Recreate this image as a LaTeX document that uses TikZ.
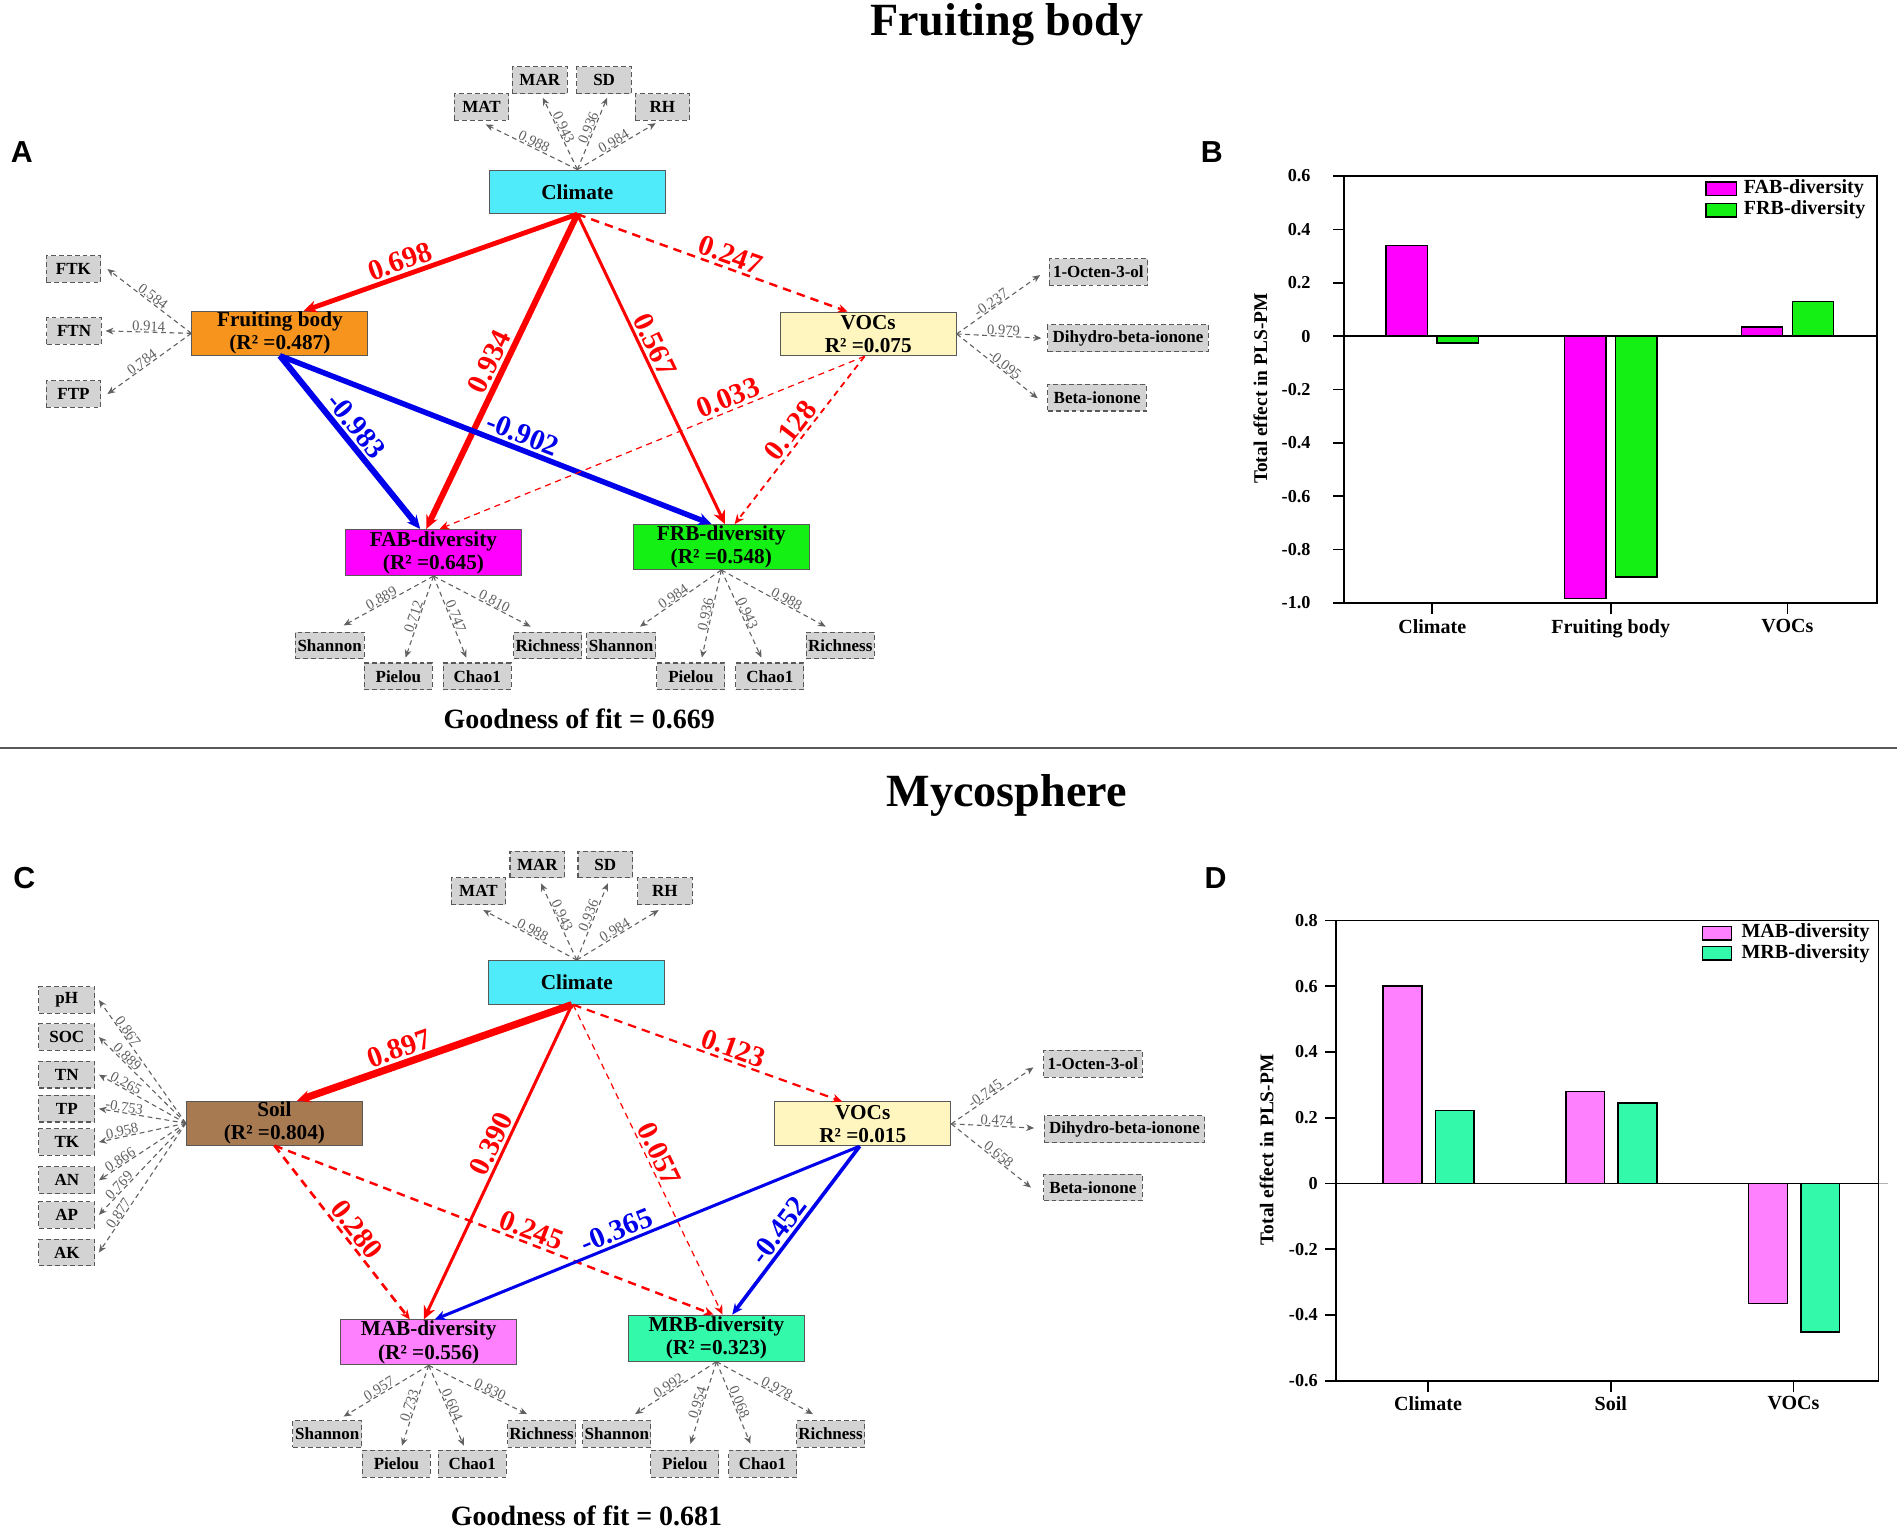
\documentclass[tikz,border=0pt]{standalone}
\usepackage{fontspec}
\setmainfont{Liberation Serif}
\newfontfamily\panelfont{Liberation Sans}
\usetikzlibrary{arrows.meta,calc}
\definecolor{climc}{RGB}{80,235,250}
\definecolor{fbc}{RGB}{247,148,30}
\definecolor{vocc}{RGB}{255,245,190}
\definecolor{fabc}{RGB}{255,0,255}
\definecolor{frbc}{RGB}{20,240,20}
\definecolor{soilc}{RGB}{168,122,82}
\definecolor{mabc}{RGB}{255,128,255}
\definecolor{mrbc}{RGB}{50,250,170}
\definecolor{boxgray}{RGB}{211,211,211}
\definecolor{pred}{RGB}{255,0,0}
\definecolor{pblue}{RGB}{0,0,235}
\begin{document}
\begin{tikzpicture}[x=1pt,y=-1pt,
  latent/.style={draw=black!65, line width=0.8pt, minimum width=145pt, minimum height=36pt, inner sep=0pt, align=center, font=\fontsize{17.5}{19}\selectfont\bfseries},
  mvar/.style={draw=black!65, fill=boxgray, line width=0.9pt, dash pattern=on 4pt off 2.5pt, minimum width=45pt, minimum height=22pt, inner xsep=1.5pt, inner ysep=0pt, font=\fontsize{14}{14}\selectfont\bfseries},
  ind/.style={draw=black!62, line width=0.9pt, dash pattern=on 4pt off 3pt, -{Stealth[length=6.5pt,width=5.5pt]}},
  ll/.style={font=\fontsize{12}{12}\selectfont, text=black!62, sloped, above, inner sep=0.3pt},
  pl/.style={font=\fontsize{24}{24}\selectfont\bfseries, sloped, above, inner sep=2pt},
  sred/.style={draw=pred, -{Stealth[length=11pt,width=10pt]}},
  sblue/.style={draw=pblue, -{Stealth[length=11pt,width=10pt]}},
  tred/.style={draw=pred, -{Stealth[length=8pt,width=7pt]}},
  tblue/.style={draw=pblue, -{Stealth[length=9pt,width=8pt]}},
  dsh/.style={dash pattern=on 7pt off 5pt},
  dshthin/.style={dash pattern=on 5pt off 4pt},
  panel/.style={font=\panelfont\fontsize{25}{25}\selectfont\bfseries},
  ttl/.style={font=\fontsize{38}{38}\selectfont\bfseries},
  gof/.style={font=\fontsize{23}{23}\selectfont\bfseries},
  tick/.style={font=\fontsize{15}{15}\selectfont\bfseries},
  cat/.style={font=\fontsize{16.5}{17}\selectfont\bfseries},
  axlab/.style={font=\fontsize{16}{16}\selectfont\bfseries, rotate=90},
  bar/.style={draw=black, line width=1.3pt}
]
\useasboundingbox (0,0) rectangle (1568,1259);
\fill[white] (0,0) rectangle (1568,1259);

% ---------------- titles, separator, panel letters
\node[ttl] (t1) at (829,20) {Fruiting body};
\node[ttl] (t2) at (829,655) {Mycosphere};
\draw[line width=1.5pt, black!65] (0,616) -- (1562,616);
\node[panel] (pA) at (18,125) {A};
\node[panel] (pB) at (998,125) {B};
\node[panel] (pC) at (20,723) {C};
\node[panel] (pD) at (1001,723) {D};

% ================= PANEL A =================
\node[mvar] (matA) at (396.5,88) {MAT};
\node[mvar] (marA) at (444.5,66) {MAR};
\node[mvar] (sdA) at (497.5,66) {SD};
\node[mvar] (rhA) at (545.5,88) {RH};
\node[latent, fill=climc] (climA) at (475.5,158) {Climate};
\node[latent, fill=fbc] (fbA) at (230.5,274.5) {Fruiting body\\(R² =0.487)};
\node[mvar] (ftk) at (60.5,221.5) {FTK};
\node[mvar] (ftn) at (61,272.5) {FTN};
\node[mvar] (ftp) at (60.5,324.5) {FTP};
\node[latent, fill=vocc] (vocA) at (715,275) {VOCs\\R² =0.075};
\node[mvar, minimum width=81pt] (octA) at (904.5,224) {1-Octen-3-ol};
\node[mvar, minimum width=132pt] (dihA) at (929,278.5) {Dihydro-beta-ionone};
\node[mvar, minimum width=81pt] (betA) at (903.5,327.5) {Beta-ionone};
\node[latent, fill=fabc, minimum height=38pt] (fabA) at (357,455) {FAB-diversity\\(R² =0.645)};
\node[latent, fill=frbc, minimum height=37pt] (frbA) at (594,450.5) {FRB-diversity\\(R² =0.548)};
\node[mvar, minimum width=57pt] (shA) at (271.5,531.5) {Shannon};
\node[mvar, minimum width=56pt] (piA) at (328,557) {Pielou};
\node[mvar, minimum width=56pt] (chA) at (393,557) {Chao1};
\node[mvar, minimum width=56pt] (riA) at (451,531.5) {Richness};
\node[mvar, minimum width=57pt] (shB) at (511.5,531.5) {Shannon};
\node[mvar, minimum width=56pt] (piB) at (569,557) {Pielou};
\node[mvar, minimum width=56pt] (chB) at (634,557) {Chao1};
\node[mvar, minimum width=56pt] (riB) at (692,531.5) {Richness};
\node[gof] (gofA) at (477,592) {Goodness of fit = 0.669};

% indicator arrows A
\draw[ind] (climA.north) -- node[ll,pos=.5]{0.988} ($(matA.south)+(3.5,3)$);
\draw[ind] (climA.north) -- node[ll,pos=.55]{0.943} ($(marA.south)+(2.5,3)$);
\draw[ind] (climA.north) -- node[ll,pos=.55]{0.936} ($(sdA.south)+(2.5,3)$);
\draw[ind] (climA.north) -- node[ll,pos=.5]{0.984} ($(rhA.south)+(-5.5,2)$);
\draw[ind] (fbA.west) -- node[ll,pos=.5]{0.584} ($(ftk.east)+(5,0)$);
\draw[ind] (fbA.west) -- node[ll,pos=.5]{0.914} ($(ftn.east)+(3,0)$);
\draw[ind] (fbA.west) -- node[ll,pos=.55]{0.784} ($(ftp.east)+(5,0)$);
\draw[ind] (vocA.east) -- node[ll,pos=.45]{-0.237} ($(octA.west)+(-7,2.5)$);
\draw[ind] (vocA.east) -- node[ll,pos=.55]{0.979} ($(dihA.west)+(-5,0)$);
\draw[ind] (vocA.east) -- node[ll,pos=.55]{-0.095} ($(betA.west)+(-8,0.5)$);
\draw[ind] (fabA.south) -- node[ll,pos=.55]{0.889} ($(shA.north)+(11.5,-5)$);
\draw[ind] (fabA.south) -- node[ll,pos=.52]{0.712} ($(piA.north)+(6,-4)$);
\draw[ind] (fabA.south) -- node[ll,pos=.52]{0.747} ($(chA.north)+(-9,-4)$);
\draw[ind] (fabA.south) -- node[ll,pos=.6]{0.810} ($(riA.north)+(-14,-4)$);
\draw[ind] (frbA.south) -- node[ll,pos=.55]{0.984} ($(shB.north)+(15.5,-4)$);
\draw[ind] (frbA.south) -- node[ll,pos=.52]{0.936} ($(piB.north)+(9,-4)$);
\draw[ind] (frbA.south) -- node[ll,pos=.52]{0.943} ($(chB.north)+(-7,-4)$);
\draw[ind] (frbA.south) -- node[ll,pos=.6]{0.988} ($(riB.north)+(-12,-4)$);

% structural paths A
\draw[sred, line width=4pt] (climA.south) -- node[pl,text=pred,pos=.63]{0.698} ($(fbA.north)+(19.5,0)$);
\draw[sred, line width=5pt] (climA.south) -- node[pl,text=pred,pos=.49]{0.934} ($(fabA.north)+(-6,0)$);
\draw[sred, line width=2.5pt] (climA.south) -- node[pl,text=pred,pos=.44]{0.567} ($(frbA.north)+(3,0)$);
\draw[tred, line width=2pt, dsh] (climA.south) -- node[pl,text=pred,pos=.55]{0.247} ($(vocA.north)+(-17,0)$);
\draw[sblue, line width=5pt] (fbA.south) -- node[pl,text=pblue,pos=.46]{-0.983} ($(fabA.north)+(-11,0)$);
\draw[sblue, line width=4.5pt] (fbA.south) -- node[pl,text=pblue,pos=.55]{-0.902} ($(frbA.north)+(-8,0)$);
\draw[tred, line width=1pt, dshthin] ($(vocA.south)+(-3,0)$) -- node[pl,text=pred,pos=.31]{0.033} ($(fabA.north)+(5,0)$);
\draw[tred, line width=1.5pt, dshthin] ($(vocA.south)+(-3,0)$) -- node[pl,text=pred,pos=.49]{0.128} ($(frbA.north)+(11,0)$);

% ================= PANEL B =================
\begin{scope}[shift={(1107,276.8)}, y=219.7pt]
  \foreach \x/\v in {72.5/0.34, 219.5/-0.983, 365/0.035}
    \draw[bar, fill=fabc] (\x-38,0) rectangle (\x-4,\v);
  \foreach \x/\v in {72.5/-0.025, 219.5/-0.902, 365/0.13}
    \draw[bar, fill=frbc] (\x+4,0) rectangle (\x+38,\v);
  \draw[line width=1.5pt] (0,-1) rectangle (439,0.6);
  \draw[line width=1.5pt] (0,0) -- (439,0);
  \foreach \v/\lab in {0.6/0.6, 0.4/0.4, 0.2/0.2, 0/0, -0.2/-0.2, -0.4/-0.4, -0.6/-0.6, -0.8/-0.8, -1/-1.0}
    \draw[line width=1.5pt] (0,\v) -- ++(-9pt,0pt) node[tick, anchor=east, inner sep=0pt, xshift=-18pt] {\lab};
  \foreach \x/\lab in {72.5/Climate, 219.5/Fruiting body, 365/VOCs}
    \draw[line width=1.5pt] (\x,-1) -- ++(0pt,-9pt) node[cat, anchor=north, inner sep=0pt, yshift=-4pt] {\lab};
\end{scope}
\node[axlab] (ylB) at (1038,320) {Total effect in PLS-PM};
\draw[line width=1.3pt, fill=fabc] (1405,150) rectangle (1430,161);
\draw[line width=1.3pt, fill=frbc] (1405,167.5) rectangle (1430,178.5);
\node[cat, anchor=west, inner sep=0pt] (legB1) at (1436,155.5) {FAB-diversity};
\node[cat, anchor=west, inner sep=0pt] (legB2) at (1436,173) {FRB-diversity};

% ================= PANEL C =================
\node[mvar] (matC) at (394,734) {MAT};
\node[mvar] (marC) at (442.5,712) {MAR};
\node[mvar] (sdC) at (498.5,712) {SD};
\node[mvar] (rhC) at (547.5,734) {RH};
\node[latent, fill=climc] (climC) at (475,809) {Climate};
\node[latent, fill=soilc] (soil) at (226,925) {Soil\\(R² =0.804)};
\node[mvar, minimum width=46pt] (ph) at (55,823.5) {pH};
\node[mvar, minimum width=46pt] (soc) at (55,854) {SOC};
\node[mvar, minimum width=46pt] (tn) at (55,885) {TN};
\node[mvar, minimum width=46pt] (tp) at (55,913) {TP};
\node[mvar, minimum width=46pt] (tk) at (55,940.5) {TK};
\node[mvar, minimum width=46pt] (an) at (55,972) {AN};
\node[mvar, minimum width=46pt] (ap) at (55,1000.5) {AP};
\node[mvar, minimum width=46pt] (ak) at (55,1031.5) {AK};
\node[latent, fill=vocc] (vocC) at (710.5,925.5) {VOCs\\R² =0.015};
\node[mvar, minimum width=81pt] (octC) at (900,876) {1-Octen-3-ol};
\node[mvar, minimum width=132pt] (dihC) at (926,930) {Dihydro-beta-ionone};
\node[mvar, minimum width=81pt] (betC) at (900,978) {Beta-ionone};
\node[latent, fill=mabc, minimum height=37pt] (mab) at (353,1105.5) {MAB-diversity\\(R² =0.556)};
\node[latent, fill=mrbc, minimum height=38pt] (mrb) at (590,1102) {MRB-diversity\\(R² =0.323)};
\node[mvar, minimum width=57pt] (shC) at (269.5,1181) {Shannon};
\node[mvar, minimum width=56pt] (piC) at (326.5,1205.5) {Pielou};
\node[mvar, minimum width=56pt] (chC) at (389,1205.5) {Chao1};
\node[mvar, minimum width=56pt] (riC) at (446,1181) {Richness};
\node[mvar, minimum width=56pt] (shD) at (508,1181) {Shannon};
\node[mvar, minimum width=56pt] (piD) at (564,1205.5) {Pielou};
\node[mvar, minimum width=56pt] (chD) at (628,1205.5) {Chao1};
\node[mvar, minimum width=56pt] (riD) at (684,1181) {Richness};
\node[gof] (gofC) at (483,1248) {Goodness of fit = 0.681};

% indicator arrows C
\draw[ind] (climC.north) -- node[ll,pos=.5]{0.988} ($(matC.south)+(4,4)$);
\draw[ind] (climC.north) -- node[ll,pos=.55]{0.943} ($(marC.south)+(3,4)$);
\draw[ind] (climC.north) -- node[ll,pos=.55]{0.936} ($(sdC.south)+(2,4)$);
\draw[ind] (climC.north) -- node[ll,pos=.5]{0.984} ($(rhC.south)+(-5,4)$);
\foreach \n/\l in {ph/0.867, soc/0.889, tn/0.265, tp/-0.753, tk/0.958, an/0.866, ap/0.769, ak/0.877}
  \draw[ind] (soil.west) -- node[ll,pos=.72]{\l} ($(\n.east)+(3,0)$);
\draw[ind] (vocC.east) -- node[ll,pos=.45]{-0.745} ($(octC.west)+(-8,3)$);
\draw[ind] (vocC.east) -- node[ll,pos=.55]{0.474} ($(dihC.west)+(-8,-1)$);
\draw[ind] (vocC.east) -- node[ll,pos=.55]{0.658} ($(betC.west)+(-10,0)$);
\draw[ind] (mab.south) -- node[ll,pos=.55]{0.957} ($(shC.north)+(13.5,-3)$);
\draw[ind] (mab.south) -- node[ll,pos=.52]{0.733} ($(piC.north)+(4.5,-3.5)$);
\draw[ind] (mab.south) -- node[ll,pos=.52]{0.604} ($(chC.north)+(-7,-3.5)$);
\draw[ind] (mab.south) -- node[ll,pos=.6]{0.830} ($(riC.north)+(-12,-5)$);
\draw[ind] (mrb.south) -- node[ll,pos=.55]{0.992} ($(shD.north)+(15,-5)$);
\draw[ind] (mrb.south) -- node[ll,pos=.52]{0.954} ($(piD.north)+(4.6,-5)$);
\draw[ind] (mrb.south) -- node[ll,pos=.52]{0.068} ($(chD.north)+(-10,-5)$);
\draw[ind] (mrb.south) -- node[ll,pos=.6]{0.978} ($(riD.north)+(-14.5,-5)$);

% structural paths C
\draw[sred, line width=6pt] ($(climC.south)+(-4,0)$) -- node[pl,text=pred,pos=.61]{0.897} ($(soil.north)+(18.5,0)$);
\draw[sred, line width=2.5pt] ($(climC.south)+(-4,0)$) -- node[pl,text=pred,pos=.46]{0.390} ($(mab.north)+(-4,0)$);
\draw[tred, line width=1pt, dshthin] ($(climC.south)+(-3,0)$) -- node[pl,text=pred,pos=.5]{0.057} ($(mrb.north)+(5,0)$);
\draw[tred, line width=1.8pt, dsh] ($(climC.south)+(-3,0)$) -- node[pl,text=pred,pos=.58]{0.123} ($(vocC.north)+(-17,0)$);
\draw[tred, line width=2.2pt, dsh] (soil.south) -- node[pl,text=pred,pos=.53]{0.280} ($(mab.north)+(-15.5,0)$);
\draw[tred, line width=2pt, dsh] (soil.south) -- node[pl,text=pred,pos=.575]{0.245} ($(mrb.north)+(-2.5,0)$);
\draw[tblue, line width=2.5pt] ($(vocC.south)+(-2.5,0)$) -- node[pl,text=pblue,pos=.56]{-0.365} ($(mab.north)+(5,0)$);
\draw[tblue, line width=3pt] ($(vocC.south)+(-2.5,0)$) -- node[pl,text=pblue,pos=.55]{-0.452} ($(mrb.north)+(13,0)$);

% ================= PANEL D =================
\begin{scope}[shift={(1100,974.6)}, y=270.7pt]
  \foreach \x/\v in {76/0.60, 226.5/0.28, 377/-0.365}
    \draw[bar, fill=mabc] (\x-37,0) rectangle (\x-5,\v);
  \foreach \x/\v in {76/0.222, 226.5/0.245, 377/-0.452}
    \draw[bar, fill=mrbc] (\x+6,0) rectangle (\x+38,\v);
  \draw[line width=1.5pt] (0,-0.6) rectangle (447,0.8);
  \draw[line width=1.5pt] (0,0) -- (447,0);
  \draw[line width=1.5pt, black!30] (447,0) -- (455,0);
  \foreach \v/\lab in {0.8/0.8, 0.6/0.6, 0.4/0.4, 0.2/0.2, 0/0, -0.2/-0.2, -0.4/-0.4, -0.6/-0.6}
    \draw[line width=1.5pt] (0,\v) -- ++(-9pt,0pt) node[tick, anchor=east, inner sep=0pt, xshift=-5pt] {\lab};
  \foreach \x/\lab in {76/Climate, 226.5/Soil, 377/VOCs}
    \draw[line width=1.5pt] (\x,-0.6) -- ++(0pt,-9pt) node[cat, anchor=north, inner sep=0pt, yshift=-3pt] {\lab};
\end{scope}
\node[axlab] (ylD) at (1043,947) {Total effect in PLS-PM};
\draw[line width=1.3pt, fill=mabc] (1402,763) rectangle (1426,774);
\draw[line width=1.3pt, fill=mrbc] (1402,779.5) rectangle (1426,790.5);
\node[cat, anchor=west, inner sep=0pt] (legD1) at (1434,768.5) {MAB-diversity};
\node[cat, anchor=west, inner sep=0pt] (legD2) at (1434,785) {MRB-diversity};
\end{tikzpicture}
\end{document}
